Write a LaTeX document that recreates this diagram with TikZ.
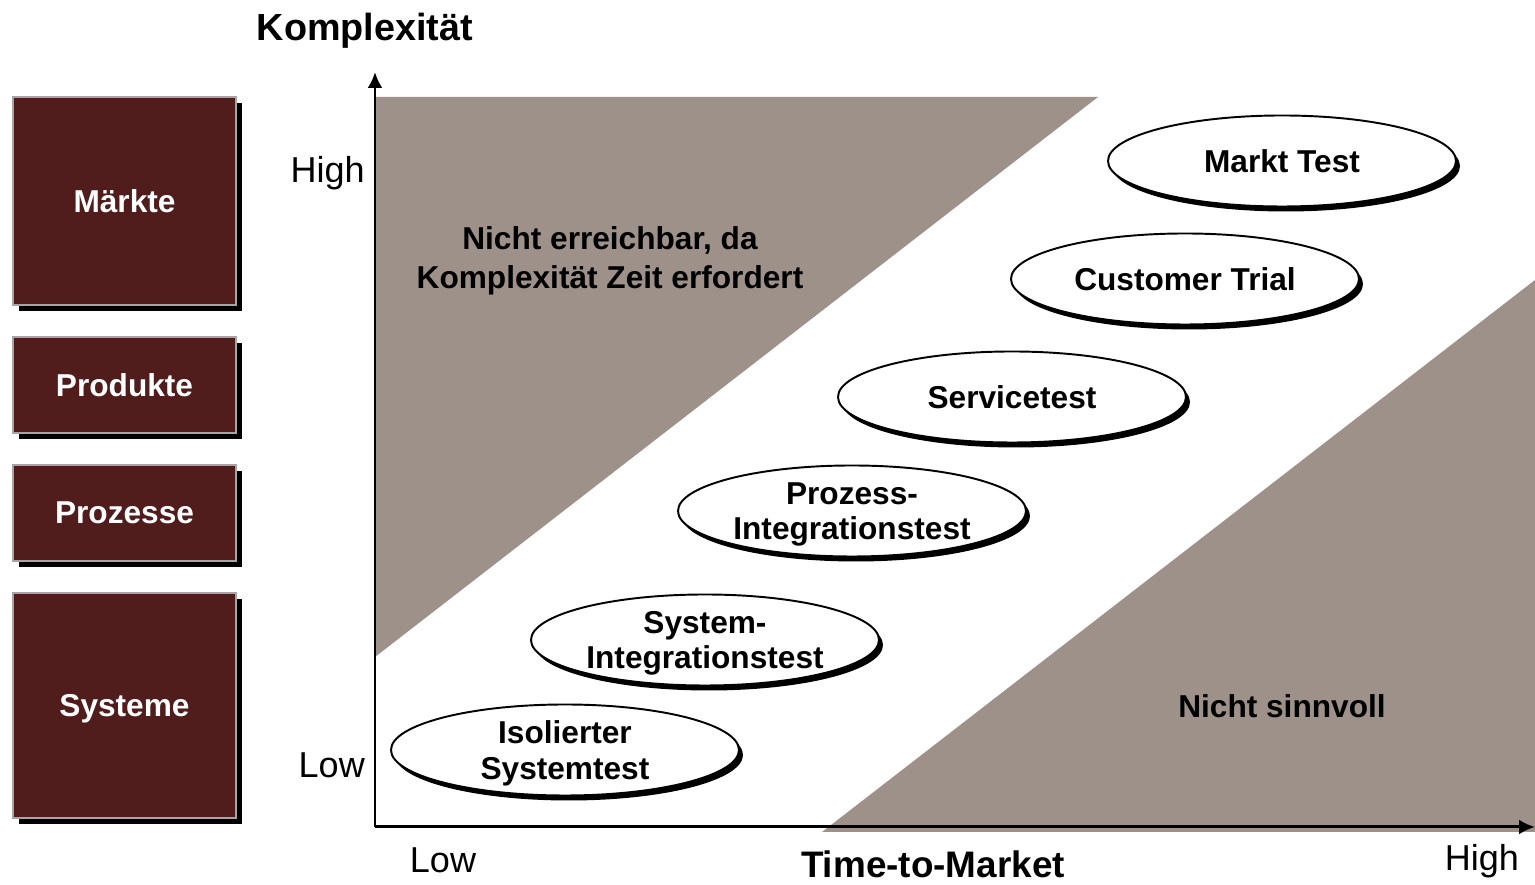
\documentclass[tikz,border=0pt]{standalone}
\usepackage{fontspec}
\setmainfont{Liberation Sans}
\usepackage{tikz}
\usetikzlibrary{positioning, arrows.meta, shapes.geometric, shadows}
\definecolor{myMaroon}{HTML}{501C1C}
\definecolor{myTaupe}{HTML}{9E918A}

\begin{document}
\begin{tikzpicture}[
  level/.style={draw=gray!70, line width=0.6pt, fill=myMaroon,
                minimum width=4.46cm, text=white, text depth=0pt,
                font=\fontsize{18}{21}\selectfont\bfseries,
                drop shadow={shadow xshift=0.12cm, shadow yshift=-0.12cm,
                             fill=black, opacity=1}},
  test/.style={ellipse, draw=black, line width=1.1pt, fill=white,
               minimum width=6.96cm, minimum height=1.82cm, inner sep=0pt,
               text depth=0pt, align=center,
               font=\fontsize{18}{20}\selectfont\bfseries,
               drop shadow={shadow xshift=0.08cm, shadow yshift=-0.1cm,
                            fill=black, opacity=1}},
  zone/.style={fill=myTaupe},
  zonetext/.style={align=center, font=\fontsize{18}{22}\selectfont\bfseries},
  tick/.style={font=\fontsize{20.5}{24}\selectfont},
  axlabel/.style={font=\fontsize{21.5}{24}\selectfont\bfseries},
  axis/.style={line width=1.7pt, -{Latex[length=0.32cm, width=0.3cm]}}
]
\useasboundingbox (-7.5,-1.16) rectangle (23.2,16.54);

% grey regions
\fill[zone] (0,14.6) -- (14.46,14.6) -- (0,3.4) -- cycle;
\fill[zone] (8.94,-0.1) -- (23.2,10.94) -- (23.2,-0.1) -- cycle;

% axes
\coordinate (origin) at (0,0);
\coordinate (ytop) at (0,15.1);
\coordinate (xend) at (23.2,0);
\draw[axis] (origin) -- (ytop);
\draw[axis] (origin) -- (xend);

\node[axlabel] (komplex) at (-0.2,15.92) {Komplexität};
\node[tick, anchor=east] (yhigh) at (-0.08,13.08) {High};
\node[tick, anchor=east] (ylow) at (-0.08,1.24) {Low};
\node[tick] (xlow) at (1.36,-0.66) {Low};
\node[tick] (xhigh) at (22.14,-0.68) {High};
\node[font=\fontsize{21}{24}\selectfont\bfseries, inner sep=0pt, text depth=0pt]
  (ttm) at (11.16,-0.74) {Time-to-Market};

% levels on the left
\node[level, minimum height=4.16cm] (maerkte) at (-5.01,12.52) {Märkte};
\node[level, minimum height=1.92cm] (produkte) at (-5.01,8.84) {Produkte};
\node[level, minimum height=1.92cm] (prozesse) at (-5.01,6.28) {Prozesse};
\node[level, minimum height=4.5cm] (systeme) at (-5.01,2.43) {Systeme};

% zone captions
\node[zonetext] (unreach) at (4.7,11.32) {Nicht erreichbar, da\\Komplexität Zeit erfordert};
\node[zonetext] (useless) at (18.14,2.42) {Nicht sinnvoll};

% test stages
\node[test] (markt) at (18.14,13.32) {Markt Test};
\node[test] (trial) at (16.2,10.96) {Customer Trial};
\node[test] (service) at (12.74,8.6) {Servicetest};
\node[test] (prozint) at (9.54,6.32) {Prozess-\\Integrationstest};
\node[test] (sysint) at (6.6,3.74) {System-\\Integrationstest};
\node[test] (isoliert) at (3.8,1.54) {Isolierter\\Systemtest};
\end{tikzpicture}
\end{document}
